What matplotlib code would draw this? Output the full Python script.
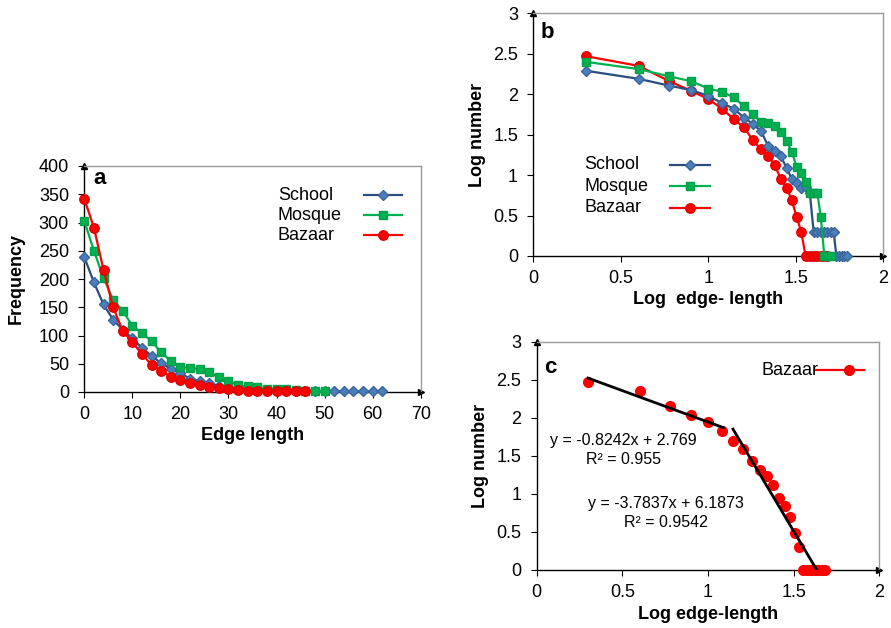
import numpy as np
import matplotlib
matplotlib.use("Agg")
import matplotlib.pyplot as plt
from matplotlib.ticker import FuncFormatter, MultipleLocator
from matplotlib.lines import Line2D

plt.rcParams['font.family'] = ['Liberation Sans', 'DejaVu Sans']

# ---------------- data ----------------
# Panel a: frequency vs edge length
school_x = list(range(0, 64, 2))
school_freq = [239, 194, 155, 128, 110, 95, 78, 64, 51, 41, 34, 23, 20, 16, 11, 8,
               7, 7, 6, 2, 2, 2, 2, 2, 2, 2, 2, 1, 1, 1, 1, 1]
mosque_x = list(range(0, 52, 2))
mosque_freq = [303, 250, 202, 163, 144, 117, 104, 90, 70, 55, 45, 42, 41, 35, 26, 19,
               12, 10, 8, 6, 6, 6, 3, 1, 1, 1]
bazaar_x = list(range(0, 48, 2))
bazaar_freq = [342, 291, 216, 150, 108, 88, 67, 48, 38, 27, 21, 16, 13, 9, 7, 5,
               3, 2, 1, 1, 1, 1, 1, 1]

# Panel b/c: log10(edge length) vs log10(number)
school_logx = [0.301, 0.602, 0.778, 0.903, 1.000, 1.079, 1.146, 1.204, 1.255, 1.301,
               1.342, 1.380, 1.415, 1.447, 1.477, 1.505, 1.531, 1.556, 1.580, 1.602,
               1.623, 1.643, 1.663, 1.681, 1.699, 1.716, 1.732, 1.748, 1.763, 1.778, 1.792]
school_logy = [2.29, 2.19, 2.105, 2.05, 1.98, 1.89, 1.82, 1.71, 1.63, 1.545,
               1.36, 1.30, 1.23, 1.09, 0.95, 0.90, 0.845, 0.85, 0.78, 0.30,
               0.30, 0.30, 0.30, 0.30, 0.30, 0.30, 0.0, 0.0, 0.0, 0.0, 0.0]
mosque_logx = [0.301, 0.602, 0.778, 0.903, 1.000, 1.079, 1.146, 1.204, 1.255, 1.301,
               1.342, 1.380, 1.415, 1.447, 1.477, 1.505, 1.531, 1.556, 1.580, 1.602,
               1.623, 1.643, 1.663, 1.681, 1.699]
mosque_logy = [2.40, 2.31, 2.22, 2.16, 2.07, 2.03, 1.96, 1.85, 1.75, 1.66,
               1.64, 1.61, 1.53, 1.42, 1.29, 1.10, 1.02, 0.91, 0.78, 0.78,
               0.78, 0.48, 0.0, 0.0, 0.0]
bazaar_logx = [0.301, 0.602, 0.778, 0.903, 1.000, 1.079, 1.146, 1.204, 1.255, 1.301,
               1.342, 1.380, 1.415, 1.447, 1.477, 1.505, 1.531, 1.556, 1.580, 1.602,
               1.623, 1.643, 1.663, 1.681]
bazaar_logy = [2.47, 2.35, 2.16, 2.04, 1.94, 1.82, 1.69, 1.59, 1.43, 1.32,
               1.24, 1.12, 0.95, 0.845, 0.69, 0.48, 0.30, 0.0, 0.0, 0.0,
               0.0, 0.0, 0.0, 0.0]

# Panel c trend lines
fit1_slope, fit1_intercept, fit1_r2 = -0.8242, 2.769, 0.955
fit1_range = [0.3, 1.09]
fit2_slope, fit2_intercept, fit2_r2 = -3.7837, 6.1873, 0.9542
fit2_range = [1.146, 1.635]

series_names = ["School", "Mosque", "Bazaar"]

# ---------------- styles ----------------
styles = {
    "School": dict(color="#2B4C7E", marker="D", mfc="#4A7EBB", mec="#3A659A", ms=5.5, lw=1.6),
    "Mosque": dict(color="#00B050", marker="s", mfc="#00B050", mec="#00A04A", ms=5.8, lw=1.6),
    "Bazaar": dict(color="#FF0000", marker="o", mfc="#FF0000", mec="#E00000", ms=6.8, lw=1.6),
}

TICK_FS = 13
LEG_FS = 13
LABEL_FS = 13
W, H = 891, 628

fig = plt.figure(figsize=(W / 100, H / 100), dpi=100)


def add_axes_px(left, right, top, bottom):
    return fig.add_axes([left / W, (H - bottom) / H, (right - left) / W, (bottom - top) / H])


def style_axes(ax):
    for s in ("top", "right"):
        ax.spines[s].set_color("#9A9A9A")
        ax.spines[s].set_linewidth(1.0)
    for s in ("left", "bottom"):
        ax.spines[s].set_color("black")
        ax.spines[s].set_linewidth(1.0)
    ax.tick_params(direction="out", length=4, width=0.8, labelsize=TICK_FS)
    ax.tick_params(axis="x", pad=6)
    ax.tick_params(axis="y", pad=7)
    ax.plot([0], [1], marker="^", color="black", ms=4.5, transform=ax.transAxes, clip_on=False)
    ax.plot([1], [0], marker=">", color="black", ms=4.5, transform=ax.transAxes, clip_on=False)
    ax.yaxis.set_major_formatter(FuncFormatter(lambda v, p: f"{v:g}"))
    ax.xaxis.set_major_formatter(FuncFormatter(lambda v, p: f"{v:g}"))


def manual_legend(ax, names, x_text, y_top, dy, x_h0, x_h1, fs=LEG_FS):
    for i, n in enumerate(names):
        y = y_top - i * dy
        ax.text(x_text, y, n, transform=ax.transAxes, fontsize=fs, va="center", ha="left")
        st = styles[n]
        ax.add_line(Line2D([x_h0, x_h1], [y, y], transform=ax.transAxes, color=st["color"],
                           lw=st["lw"], clip_on=False))
        ax.add_line(Line2D([(x_h0 + x_h1) / 2], [y], transform=ax.transAxes, marker=st["marker"],
                           mfc=st["mfc"], mec=st["mec"], ms=st["ms"], lw=0, clip_on=False))


# ---------------- panel a ----------------
axa = add_axes_px(84.3, 420.7, 166, 392)
data_a = {"School": (school_x, school_freq), "Mosque": (mosque_x, mosque_freq),
          "Bazaar": (bazaar_x, bazaar_freq)}
for n in series_names:
    x, y = data_a[n]
    axa.plot(x, y, clip_on=False, zorder=3, **styles[n])
axa.set_xlim(0, 70)
axa.set_ylim(0, 400)
axa.xaxis.set_major_locator(MultipleLocator(10))
axa.yaxis.set_major_locator(MultipleLocator(50))
style_axes(axa)
axa.set_xlabel("Edge length", fontsize=LABEL_FS, fontweight="bold", labelpad=3)
axa.set_ylabel("Frequency", fontsize=LABEL_FS, fontweight="bold", labelpad=10)
axa.text(0.028, 0.99, "a", transform=axa.transAxes, fontsize=16, fontweight="bold", va="top")
manual_legend(axa, series_names, 0.575, 0.87, 0.088, 0.83, 0.945)

# ---------------- panel b ----------------
axb = add_axes_px(533.3, 883.3, 13.3, 256)
data_b = {"School": (school_logx, school_logy), "Mosque": (mosque_logx, mosque_logy),
          "Bazaar": (bazaar_logx, bazaar_logy)}
for n in ["Bazaar", "School", "Mosque"]:
    x, y = data_b[n]
    axb.plot(x, y, clip_on=False, zorder=3, **styles[n])
axb.set_xlim(0, 2)
axb.set_ylim(0, 3)
axb.xaxis.set_major_locator(MultipleLocator(0.5))
axb.yaxis.set_major_locator(MultipleLocator(0.5))
style_axes(axb)
axb.set_xlabel("Log  edge- length", fontsize=LABEL_FS, fontweight="bold", labelpad=3)
axb.set_ylabel("Log number", fontsize=LABEL_FS, fontweight="bold", labelpad=5)
axb.text(0.02, 0.965, "b", transform=axb.transAxes, fontsize=16, fontweight="bold", va="top")
manual_legend(axb, series_names, 0.145, 0.375, 0.088, 0.39, 0.505)

# ---------------- panel c ----------------
axc = add_axes_px(536.7, 879.3, 341.7, 570)
axc.plot(bazaar_logx, bazaar_logy, linestyle="none", marker="o", mfc="#FF0000", mec="#FF0000",
         ms=7, clip_on=False, zorder=3)
for slope, icpt, rng in [(fit1_slope, fit1_intercept, fit1_range),
                         (fit2_slope, fit2_intercept, fit2_range)]:
    xs = np.array(rng)
    axc.plot(xs, slope * xs + icpt, color="black", lw=2.0, zorder=4)
axc.set_xlim(0, 2)
axc.set_ylim(0, 3)
axc.xaxis.set_major_locator(MultipleLocator(0.5))
axc.yaxis.set_major_locator(MultipleLocator(0.5))
style_axes(axc)
axc.set_xlabel("Log edge-length", fontsize=LABEL_FS, fontweight="bold", labelpad=4)
axc.set_ylabel("Log number", fontsize=LABEL_FS, fontweight="bold", labelpad=5)
axc.text(0.022, 0.935, "c", transform=axc.transAxes, fontsize=16, fontweight="bold", va="top")
ann_fs = 11.5
axc.text(0.504, 1.70, f"y = {fit1_slope}x + {fit1_intercept}", fontsize=ann_fs, ha="center", va="center")
axc.text(0.504, 1.45, f"R² = {fit1_r2}", fontsize=ann_fs, ha="center", va="center")
axc.text(0.755, 0.87, f"y = {fit2_slope}x + {fit2_intercept}", fontsize=ann_fs, ha="center", va="center")
axc.text(0.755, 0.62, f"R² = {fit2_r2}", fontsize=ann_fs, ha="center", va="center")
# legend c
axc.text(0.657, 0.875, "Bazaar", transform=axc.transAxes, fontsize=LEG_FS, va="center", ha="left")
axc.add_line(Line2D([0.815, 0.955], [0.875, 0.875], transform=axc.transAxes, color="#FF0000", lw=1.6))
axc.add_line(Line2D([0.912], [0.875], transform=axc.transAxes, marker="o", mfc="#FF0000",
                    mec="#E00000", ms=7, lw=0))

fig.savefig("out.png", dpi=100)
